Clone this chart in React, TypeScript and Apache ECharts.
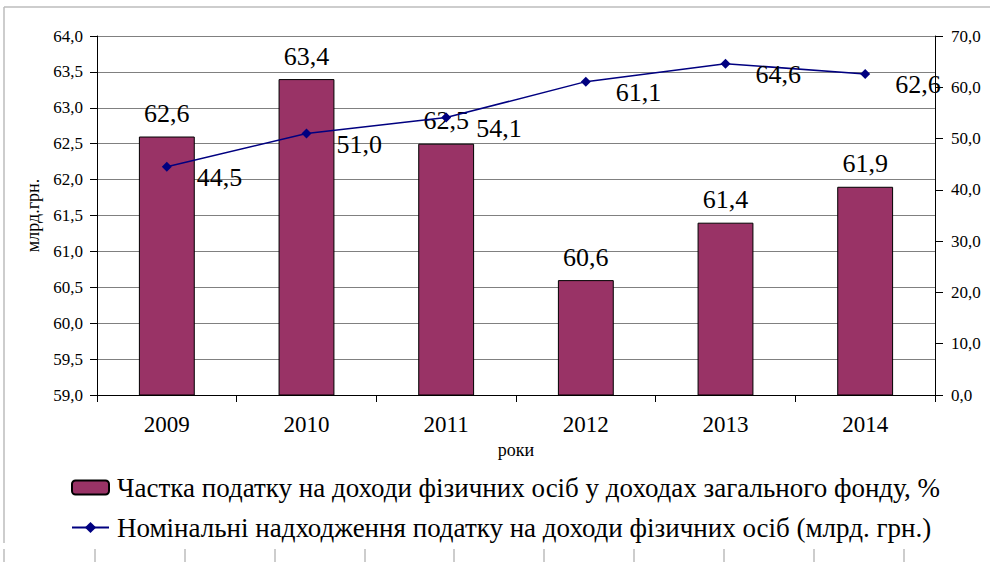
import React, { useEffect, useRef } from "react";
import * as echarts from "echarts";

const years = ["2009", "2010", "2011", "2012", "2013", "2014"];
const shareValues = [62.6, 63.4, 62.5, 60.6, 61.4, 61.9];
const nominalValues = [44.5, 51.0, 54.1, 61.1, 64.6, 62.6];
const shareName = "Частка податку на доходи фізичних осіб у доходах загального фонду, %";
const nominalName = "Номінальні надходження податку на доходи фізичних осіб (млрд. грн.)";
const leftAxisName = "млрд.грн.";
const xAxisName = "роки";
const bottomTickXs = [4, 95, 185, 275, 365, 454, 544, 634, 724, 814, 904];

const FONT = "Liberation Serif";
const fmt = (v: number) => v.toFixed(1).replace(".", ",");

export default function App() {
  const ref = useRef<HTMLDivElement>(null);
  useEffect(() => {
    if (!ref.current) return;
    const chart = echarts.init(ref.current, null, { renderer: "svg" });
    const frame: any[] = [
      { type: "line", shape: { x1: 4, y1: 7, x2: 990, y2: 7 }, style: { stroke: "#bdbdbd", lineWidth: 1.5 } },
      { type: "line", shape: { x1: 4, y1: 7, x2: 4, y2: 543 }, style: { stroke: "#bdbdbd", lineWidth: 1.5 } },
      ...bottomTickXs.map((x) => ({
        type: "line",
        shape: { x1: x, y1: 549, x2: x, y2: 562 },
        style: { stroke: "#bdbdbd", lineWidth: 1.5 },
      })),
    ];
    chart.setOption({
      animation: false,
      backgroundColor: "#ffffff",
      textStyle: { fontFamily: FONT, color: "#000" },
      graphic: frame,
      grid: { left: 97, right: 55, top: 36, bottom: 167, containLabel: false, outerBoundsMode: "none" },
      legend: {
        orient: "vertical",
        left: 66,
        top: 469,
        itemWidth: 37,
        itemHeight: 14,
        itemGap: 13,
        textStyle: { fontFamily: FONT, fontSize: 27, color: "#000", padding: [0, 0, 0, 3] },
        data: [shareName, nominalName],
      },
      xAxis: {
        type: "category",
        data: years,
        boundaryGap: true,
        name: xAxisName,
        nameLocation: "middle",
        nameGap: 33,
        nameTextStyle: { fontFamily: FONT, fontSize: 18, color: "#000" },
        axisLine: { lineStyle: { color: "#000", width: 1 } },
        axisTick: { show: true, length: 7, lineStyle: { color: "#000" } },
        axisLabel: { fontFamily: FONT, fontSize: 23, color: "#000", margin: 18 },
        splitLine: { show: false },
      },
      yAxis: [
        {
          type: "value",
          min: 59,
          max: 64,
          interval: 0.5,
          position: "left",
          name: leftAxisName,
          nameLocation: "middle",
          nameGap: 54,
          nameRotate: 90,
          nameTextStyle: { fontFamily: FONT, fontSize: 18, color: "#000" },
          axisLine: { show: true, lineStyle: { color: "#000", width: 1 } },
          axisTick: { show: true, length: 7, lineStyle: { color: "#000" } },
          axisLabel: { fontFamily: FONT, fontSize: 17, color: "#000", margin: 14, formatter: (v: number) => fmt(v) },
          splitLine: { show: true, lineStyle: { color: "#808080", width: 1 } },
        },
        {
          type: "value",
          min: 0,
          max: 70,
          interval: 10,
          position: "right",
          axisLine: { show: true, lineStyle: { color: "#000", width: 1 } },
          axisTick: { show: true, length: 8, lineStyle: { color: "#000" } },
          axisLabel: { fontFamily: FONT, fontSize: 17, color: "#000", margin: 16, formatter: (v: number) => fmt(v) },
          splitLine: { show: false },
        },
      ],
      series: [
        {
          name: shareName,
          type: "bar",
          yAxisIndex: 0,
          data: shareValues,
          barWidth: "40%",
          itemStyle: { color: "#993366", borderColor: "#000", borderWidth: 1 },
          label: {
            show: true,
            position: "top",
            distance: 10,
            fontFamily: FONT,
            fontSize: 26,
            color: "#000",
            formatter: (p: any) => fmt(p.value),
          },
        },
        {
          name: nominalName,
          type: "line",
          yAxisIndex: 1,
          data: nominalValues,
          symbol: "diamond",
          symbolSize: 10,
          lineStyle: { color: "#000080", width: 1.5 },
          itemStyle: { color: "#000080" },
          label: {
            show: true,
            position: "right",
            distance: 25,
            offset: [0, 11],
            fontFamily: FONT,
            fontSize: 26,
            color: "#000",
            formatter: (p: any) => fmt(p.value),
          },
        },
      ],
    });
    return () => chart.dispose();
  }, []);
  return (
    <div
      ref={ref}
      style={{ position: "fixed", left: 0, top: 0, width: 990, height: 562, background: "#fff" }}
    />
  );
}
